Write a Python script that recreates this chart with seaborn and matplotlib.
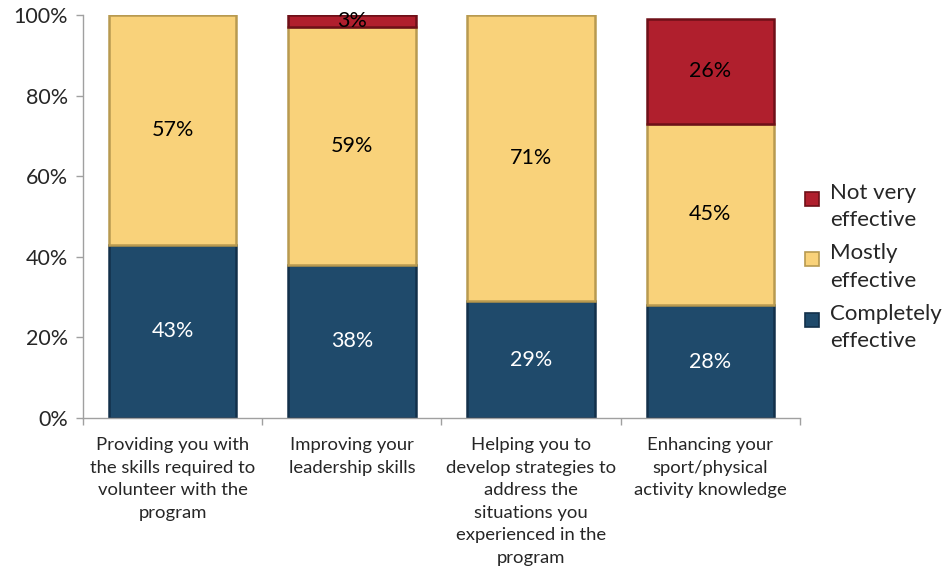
import matplotlib
matplotlib.use("Agg")
import matplotlib.pyplot as plt
from matplotlib.patches import Patch, Rectangle
from matplotlib.legend_handler import HandlerPatch
import seaborn as sns
import numpy as np
import pandas as pd

categories = [
    "Providing you with\nthe skills required to\nvolunteer with the\nprogram",
    "Improving your\nleadership skills",
    "Helping you to\ndevelop strategies to\naddress the\nsituations you\nexperienced in the\nprogram",
    "Enhancing your\nsport/physical\nactivity knowledge",
]
completely = [43, 38, 29, 28]
mostly = [57, 59, 71, 45]
not_very = [0, 3, 0, 26]

series = ["Completely\neffective", "Mostly\neffective", "Not very\neffective"]
colors = ["#1f4a6b", "#f9d27a", "#b01f2d"]
edges = ["#12304a", "#b89a50", "#6e1018"]
text_colors = ["white", "black", "black"]

sns.set_theme(style="white")
plt.rcParams["font.family"] = ["Lato", "DejaVu Sans"]

fig = plt.figure(figsize=(9.45, 5.88), dpi=100)
ax = fig.add_axes([83 / 945, 1 - 418 / 588, (800 - 83) / 945, (418 - 15) / 588])

values = [completely, mostly, not_very]
bottom = np.zeros(len(categories))
for vals, name, col, ec, tc in zip(values, series, colors, edges, text_colors):
    vals = np.array(vals, dtype=float)
    df = pd.DataFrame({"cat": categories, "val": vals})
    sns.barplot(data=df, x="cat", y="val", bottom=bottom, color=col,
                width=0.71, edgecolor=ec, linewidth=1.8, ax=ax, saturation=1)
    # hide empty segments so they leave no outline
    for patch, v in zip(ax.containers[-1], vals):
        if v <= 0:
            patch.set_visible(False)
    for i, v in enumerate(vals):
        if v > 0:
            ax.text(i, bottom[i] + v / 2, f"{int(v)}%", ha="center", va="center",
                    color=tc, fontsize=15.5)
    bottom = bottom + vals

ax.set_ylim(0, 100)
ax.set_xlim(-0.5, len(categories) - 0.5)
ax.set_yticks(np.arange(0, 101, 20))
ax.set_yticklabels([f"{t}%" for t in range(0, 101, 20)], fontsize=15.5)
ax.set_xticks(range(len(categories)))
ax.set_xticklabels(categories, fontsize=13.3, linespacing=1.5, va="top")
ax.set_xlabel("")
ax.set_ylabel("")
ax.tick_params(axis="x", length=0, pad=14)
ax.tick_params(axis="y", length=5, width=1, color="#a0a0a0", direction="out", pad=6, left=True)
ax.set_xticks(np.arange(-0.5, len(categories), 1.0), minor=True)
ax.tick_params(axis="x", which="minor", length=5, color="#a0a0a0", bottom=True, direction="out")
for side in ["top", "right"]:
    ax.spines[side].set_visible(False)
for side in ["left", "bottom"]:
    ax.spines[side].set_color("#a0a0a0")
    ax.spines[side].set_linewidth(1)


def square_at_top(legend, orig_handle, xdescent, ydescent, width, height, fontsize):
    # small square key aligned with the first line of a two-line label
    side = 0.62 * fontsize
    return Rectangle((-xdescent, -ydescent + height - side), side, side)


handles = [Patch(facecolor=c, edgecolor=e, linewidth=1.2, label=s)
           for s, c, e in zip(series, colors, edges)]
leg = ax.legend(handles[::-1], series[::-1], loc="center left",
                bbox_to_anchor=(805 / 945, 1 - 267 / 588),
                bbox_transform=fig.transFigure, frameon=False,
                prop={"size": 16, "family": ["Lato", "DejaVu Sans"]},
                handlelength=0.62, handleheight=1.75, handletextpad=0.5,
                labelspacing=0.6, borderaxespad=0, borderpad=0,
                handler_map={Patch: HandlerPatch(patch_func=square_at_top)})
for t in leg.get_texts():
    t.set_linespacing(1.45)

fig.savefig("out.png", dpi=100)
